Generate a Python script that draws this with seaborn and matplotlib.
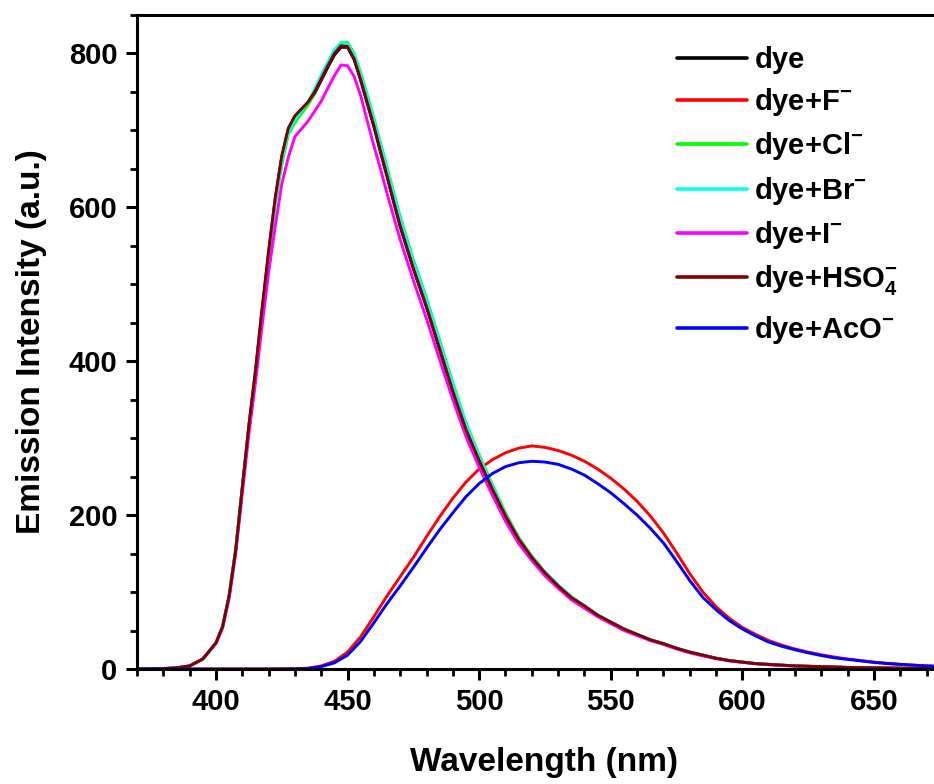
import numpy as np
import pandas as pd
import matplotlib
matplotlib.use("Agg")
import matplotlib.pyplot as plt
from matplotlib.ticker import MultipleLocator
import seaborn as sns

# ---- data ----
wl_main = [370, 375, 380, 385, 390, 395, 400, 402.5, 405, 407.5, 410, 412.5, 415, 417.5,
           420, 422.5, 425, 427.5, 430, 432.5, 435, 437.5, 440, 442.5, 445, 447.5,
           450, 452.5, 455, 457.5, 460, 462.5, 465, 467.5, 470, 475, 480, 485, 490,
           495, 500, 505, 510, 515, 520, 525, 530, 535, 540, 545, 550, 555, 560, 565,
           570, 575, 580, 585, 590, 595, 600, 605, 610, 615, 620, 625, 630, 640, 650,
           660, 675]

dye = [0, 0, 0.5, 1.5, 4, 13, 34, 55, 95, 155, 235, 315, 385, 465,
       540, 610, 665, 702, 718, 727, 735, 748, 765, 782, 798, 808,
       808, 792, 765, 735, 705, 672, 640, 607, 575, 520, 470, 415, 360,
       310, 270, 233, 198, 168, 145, 125, 108, 93, 82, 70, 61, 52, 45, 38,
       33, 27, 22, 18, 14, 11, 9, 7, 6, 5, 4, 3.5, 3, 2, 1.5,
       1, 0.5]

dye_cl = [0, 0, 0.5, 1.5, 4, 13, 34, 55, 95, 155, 235, 315, 385, 462,
          535, 603, 655, 695, 710, 722, 733, 750, 768, 786, 804, 814,
          814, 800, 775, 746, 716, 684, 652, 620, 588, 532, 482, 427, 372,
          320, 278, 240, 203, 171, 147, 126, 109, 94, 82, 70, 61, 52, 45, 38,
          33, 27, 22, 18, 14, 11, 9, 7, 6, 5, 4, 3.5, 3, 2, 1.5,
          1, 0.5]

dye_br = [0, 0, 0.5, 1.5, 4, 13, 34, 55, 95, 155, 235, 315, 386, 466,
          540, 608, 660, 698, 714, 726, 737, 754, 772, 789, 805, 813,
          812, 798, 772, 743, 713, 681, 649, 617, 585, 529, 479, 424, 369,
          318, 276, 238, 201, 170, 146, 126, 109, 94, 82, 70, 61, 52, 45, 38,
          33, 27, 22, 18, 14, 11, 9, 7, 6, 5, 4, 3.5, 3, 2, 1.5,
          1, 0.5]

dye_i = [0, 0, 0.5, 1.5, 4, 13, 33, 53, 92, 150, 228, 305, 372, 445,
         515, 575, 630, 665, 692, 702, 712, 725, 738, 755, 771, 785,
         784, 770, 745, 712, 680, 650, 618, 588, 558, 505, 455, 402, 350,
         302, 262, 226, 192, 163, 141, 121, 105, 90, 79, 68, 59, 50, 43.5, 37,
         32, 26, 21, 17, 13.5, 10.5, 8.5, 7, 5.5, 4.5, 4, 3.5, 3, 2, 1.5,
         1, 0.5]

dye_hso4 = [0, 0, 0.5, 1.5, 4, 13, 34, 55, 95, 155, 236, 317, 388, 468,
            543, 612, 667, 703, 719, 728, 737, 750, 767, 784, 800, 810,
            809, 793, 766, 736, 706, 673, 641, 608, 576, 521, 471, 416, 361,
            311, 271, 234, 199, 169, 145, 125, 108, 93, 82, 70, 61, 52, 45, 38,
            33, 27, 22, 18, 14, 11, 9, 7, 6, 5, 4, 3.5, 3, 2, 1.5,
            1, 0.5]

wl_ab = [370, 380, 390, 400, 410, 420, 430, 435, 440, 445, 450, 455, 460, 465, 470,
         475, 480, 485, 490, 495, 500, 505, 510, 515, 520, 525, 530, 535, 540, 545,
         550, 555, 560, 565, 570, 575, 580, 585, 590, 595, 600, 605, 610, 615, 620,
         625, 630, 635, 640, 645, 650, 655, 660, 665, 670, 675]

dye_f = [0, 0, 0, 0, 0, 0, 0.3, 1, 4, 10, 22, 42, 68, 95, 120,
         145, 172, 198, 222, 243, 260, 272, 281, 287, 290, 288, 284, 278, 270, 260,
         248, 234, 218, 199, 177, 151, 124, 100, 81, 66, 54, 45, 37, 31, 26,
         22, 18.5, 15.5, 13, 11, 9, 7.5, 6, 5, 4, 3.5]

dye_aco = [0, 0, 0, 0, 0, 0, 0.2, 0.8, 3, 8, 18, 36, 60, 85, 108,
           132, 157, 181, 203, 224, 241, 254, 263, 268, 270, 269, 266, 260, 252, 241,
           229, 215, 200, 183, 164, 140, 115, 93, 77, 63, 52, 43, 35, 29.5, 25,
           21, 17.5, 14.5, 12.5, 10.5, 8.5, 7, 6, 5, 4, 3.5]

labels = ["dye", r"dye+F$^{-}$", r"dye+Cl$^{-}$", r"dye+Br$^{-}$", r"dye+I$^{-}$",
          r"dye+HSO$_{4}^{-}$", r"dye+AcO$^{-}$"]
colors = ["#000000", "#FF0000", "#00FF00", "#00FFFF", "#FF00FF", "#800000", "#0000FF"]

series = [(wl_main, dye), (wl_ab, dye_f), (wl_main, dye_cl), (wl_main, dye_br),
          (wl_main, dye_i), (wl_main, dye_hso4), (wl_ab, dye_aco)]

# ---- style ----
sns.set_style("white")
plt.rcParams["font.family"] = ["Liberation Sans", "DejaVu Sans"]
plt.rcParams["font.weight"] = "bold"
plt.rcParams["text.color"] = "black"
plt.rcParams["axes.labelcolor"] = "black"
plt.rcParams["xtick.color"] = "black"
plt.rcParams["ytick.color"] = "black"
plt.rcParams["mathtext.fontset"] = "custom"
plt.rcParams["mathtext.rm"] = "Liberation Sans:bold"
plt.rcParams["mathtext.it"] = "Liberation Sans:bold"
plt.rcParams["mathtext.bf"] = "Liberation Sans:bold"
plt.rcParams["mathtext.default"] = "rm"

fig = plt.figure(figsize=(9.34, 7.84), dpi=100)
ax = fig.add_axes([137 / 934, 115 / 784, 813 / 934, 654 / 784])

for (x, y), lab, c in zip(series, labels, colors):
    df = pd.DataFrame({"Wavelength": x, "Intensity": y})
    sns.lineplot(data=df, x="Wavelength", y="Intensity", ax=ax, color=c,
                 linewidth=2.1, label=lab, sort=False, estimator=None)

ax.set_xlim(370, 370 + 813 / 2.632)
ax.set_ylim(0, 850)
ax.xaxis.set_major_locator(MultipleLocator(50))
ax.xaxis.set_minor_locator(MultipleLocator(10))
ax.yaxis.set_major_locator(MultipleLocator(200))
ax.yaxis.set_minor_locator(MultipleLocator(50))

for s in ax.spines.values():
    s.set_linewidth(2.2)
    s.set_color("black")

ax.tick_params(axis="both", which="major", direction="out", length=8, width=2.2,
               labelsize=21, pad=6, top=False, right=False, bottom=True, left=True,
               colors="black")
ax.tick_params(axis="both", which="minor", direction="out", length=5, width=2.0,
               top=False, right=False, bottom=True, left=True, colors="black")
for t in ax.get_xticklabels() + ax.get_yticklabels():
    t.set_fontweight("bold")

ax.set_xlabel("Wavelength (nm)", fontsize=24, fontweight="bold", labelpad=22,
              color="black")
ax.set_ylabel("Emission Intensity (a.u.)", fontsize=24, fontweight="bold", labelpad=16,
              color="black")

handles, labs = ax.get_legend_handles_labels()
common = dict(frameon=False, fontsize=21, handlelength=2.4, handletextpad=0.25,
              borderpad=0, borderaxespad=0, bbox_transform=fig.transFigure,
              loc="upper left")
leg1 = ax.legend(handles[:6], labs[:6], bbox_to_anchor=(677 / 934, 1 - 46 / 784),
                 labelspacing=0.42, **common)
ax.add_artist(leg1)
leg2 = ax.legend(handles[6:], labs[6:], bbox_to_anchor=(677 / 934, 1 - 314 / 784),
                 **common)
for leg in (leg1, leg2):
    for line in leg.get_lines():
        line.set_linewidth(2.6)
    for t in leg.get_texts():
        t.set_fontweight("bold")
        t.set_color("black")

fig.savefig("out.png", dpi=100)
